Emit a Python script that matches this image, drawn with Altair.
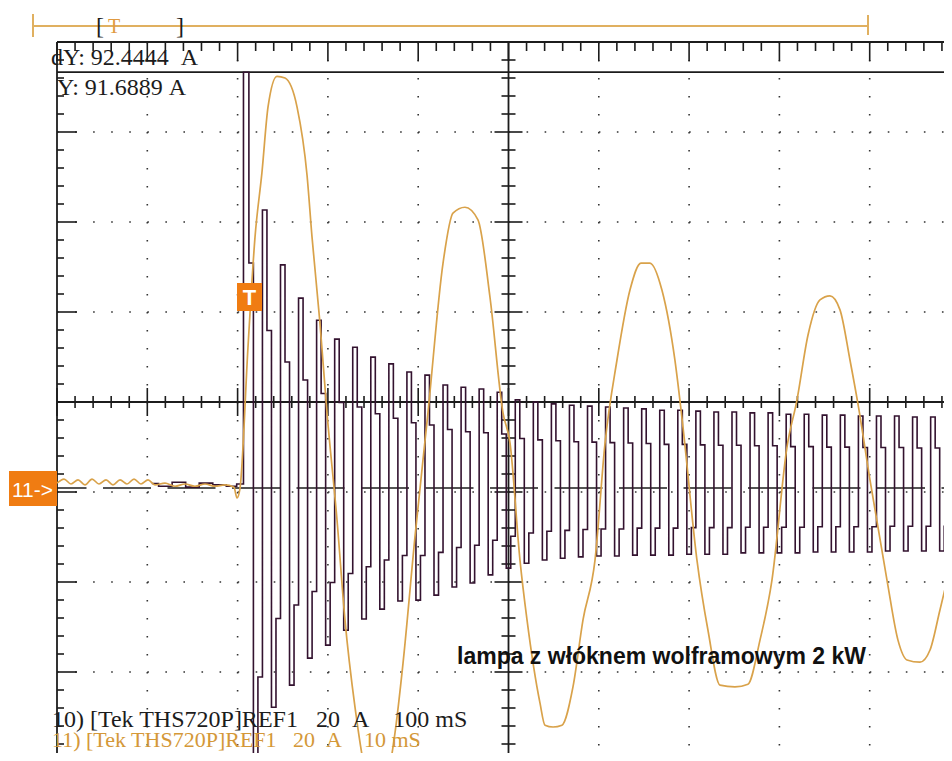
import altair as alt
import pandas as pd
import numpy as np

# ---------------- data ----------------
# Trace 10 (dark): 100 ms/div, 20 A/div, 50 Hz lamp inrush current,
# displayed as 4 held samples per mains cycle: peak, falling mid, trough, rising mid
CH10_MS_PER_DIV = 100.0
CH10_T_FIRST_PEAK = 210.0     # ms from screen left
CH10_PERIOD = 20.0            # ms (50 Hz mains)
ch10_pre_t = [105, 120, 135, 150, 165, 180, 195, 203]
ch10_pre_a = [1.0, 0.4, 1.3, 0.2, 1.1, 0.7, 0.4, 0.9]
ch10_peaks = [92.4, 61.8, 49.6, 42.2, 37.3, 33.1, 31.3, 29.1, 27.6, 25.8,
              25.1, 22.9, 22.4, 22.0, 21.3, 19.6, 19.1, 18.7, 18.4, 18.2,
              18.0, 17.8, 17.6, 17.3, 17.3, 17.1, 16.9, 16.9, 16.7, 16.7,
              16.4, 16.4, 16.2, 16.2, 16.0, 16.0, 16.0, 15.8, 15.8, 15.8]
ch10_mid_fall = [50.0, 35.0, 28.0, 24.0, 21.0, 19.0, 18.0, 16.5, 15.5, 14.5,
                 14.0, 13.0, 12.5, 12.3, 12.0, 11.0, 10.7, 10.5, 10.3, 10.2,
                 10.1, 10.0, 9.9, 9.7, 9.7, 9.6, 9.5, 9.5, 9.4, 9.4,
                 9.2, 9.2, 9.1, 9.1, 9.0, 9.0, 9.0, 8.9, 8.9, 8.9]
ch10_troughs = [-69.3, -48.7, -43.8, -37.8, -34.9, -31.6, -29.1, -26.9, -25.1, -24.9,
                -23.8, -22.0, -21.1, -19.3, -17.8, -16.7, -16.0, -15.6, -15.3, -15.1,
                -15.1, -14.9, -14.9, -14.9, -14.7, -14.7, -14.7, -14.4, -14.4, -14.4,
                -14.4, -14.2, -14.2, -14.2, -14.2, -14.0, -14.0, -14.0, -14.0, -14.0]
ch10_mid_rise = [-42.0, -29.0, -26.0, -23.0, -21.0, -19.0, -17.5, -16.0, -15.0, -15.0,
                 -14.3, -13.2, -12.7, -11.6, -10.7, -10.0, -9.6, -9.4, -9.2, -9.1,
                 -9.1, -8.9, -8.9, -8.9, -8.8, -8.8, -8.8, -8.7, -8.7, -8.7,
                 -8.7, -8.6, -8.6, -8.6, -8.6, -8.5, -8.5, -8.5, -8.5, -8.5]

# Trace 11 (orange): 10 ms/div, 20 A/div
CH11_MS_PER_DIV = 10.0
ch11_t = [0.0, 0.78, 1.55, 2.33, 3.10, 3.88, 4.65, 5.43, 6.20, 6.98, 7.75, 8.53, 9.30, 10.08,
          10.85, 11.96, 13.07, 14.17, 15.28, 16.39, 17.50, 18.60, 19.60, 19.93, 20.27,
          21.15, 21.93, 22.70, 23.37, 24.36, 25.25, 26.58, 27.69, 28.24, 29.12, 29.90,
          31.01, 31.89, 33.00, 34.11, 35.44, 36.77, 37.43, 38.32, 39.64, 41.08, 42.75,
          43.85, 45.18, 46.62, 47.95, 49.39, 50.17, 51.27, 52.05, 53.49, 54.04, 54.93,
          55.92, 57.14, 58.25, 59.58, 60.69, 62.01, 63.45, 64.67, 65.66, 66.99, 68.43,
          69.32, 70.87, 72.09, 73.42, 75.08, 76.52, 77.85, 79.18, 80.84, 81.95, 83.17,
          84.49, 85.60, 86.71, 87.82, 88.70, 90.03, 91.91, 93.13, 94.13, 95.57, 96.68,
          97.78, 99.11]
ch11_a = [1.1, 2.0, 0.9, 1.8, 0.7, 2.0, 0.9, 1.8, 0.7, 1.8, 0.9, 2.0, 0.9, 1.8,
          0.7, 1.1, 0.4, 0.9, 0.4, 0.9, 0.4, 0.7, 0.2, -2.2, 0.0,
          31.3, 55.8, 70.2, 84.7, 91.5, 91.1, 84.7, 69.5, 55.8, 36.7, 16.7,
          -7.1, -29.3, -48.7, -62.7, -68.2, -62.7, -54.4, -38.9, -10.9, 16.7, 50.0,
          61.1, 62.4, 59.6, 42.4, 16.7, 10.0, -16.0, -29.3, -47.8, -52.7, -53.1,
          -52.7, -44.2, -29.3, -16.0, 10.0, 28.4, 44.0, 50.0, 50.0, 44.0, 28.4,
          13.6, -16.0, -31.6, -43.8, -44.2, -43.6, -33.8, -20.4, 9.1, 19.6, 34.0,
          41.8, 42.7, 39.6, 28.4, 18.7, 1.8, -20.4, -33.8, -38.2, -38.7, -36.0,
          -27.1, -16.0]

A_PER_DIV = 20.0
CURSOR_DY = "dY:\u00a092.4444\u00a0\u00a0A"
CURSOR_Y = "Y:\u00a091.6889\u00a0A"
CURSOR_LEVEL_A = 92.4444
LINE10 = "10) [Tek THS720P]REF1\u00a0\u00a0\u00a020\u00a0\u00a0A\u00a0\u00a0\u00a0\u00a0100\u00a0mS"
LINE11 = "11) [Tek THS720P]REF1\u00a0\u00a0\u00a020\u00a0\u00a0A\u00a0\u00a0\u00a0\u00a010\u00a0mS"
NOTE = "lampa z włóknem wolframowym 2 kW"

# ---------------- layout ----------------
XPX, YPX = 90.3, 90.0          # pixels per division
W, H = 887, 711
XMAX = W / XPX
YTOP = 4.0
YMIN = YTOP - H / YPX
ZERO = -0.956                  # ground level of both traces (divisions)
XCEN = 5.0

xs = alt.Scale(domain=[0, XMAX], nice=False, zero=False)
ys = alt.Scale(domain=[YMIN, YTOP], nice=False, zero=False)


def X(f):
    return alt.X(f, type="quantitative", scale=xs, axis=None)


def Y(f):
    return alt.Y(f, type="quantitative", scale=ys, axis=None)


def px_x(p):
    return (p - 57) / XPX


def px_y(p):
    return (402 - p) / YPX


BLACK = "#1c1c1c"
DARK = "#33122f"
ORANGE = "#d9a24a"
MARK = "#f07c12"

# trace 10 table
t10, a10 = list(ch10_pre_t), list(ch10_pre_a)
q = CH10_PERIOD / 4
for k in range(len(ch10_peaks)):
    tp = CH10_T_FIRST_PEAK + k * CH10_PERIOD
    t10 += [tp, tp + q, tp + 2 * q, tp + 3 * q]
    a10 += [ch10_peaks[k], ch10_mid_fall[k], ch10_troughs[k], ch10_mid_rise[k]]
d10 = pd.DataFrame({"t": t10, "a": a10})
d10["i"] = range(len(d10))
d10["x"] = d10.t / CH10_MS_PER_DIV
d10["y"] = d10.a / A_PER_DIV + ZERO

d11 = pd.DataFrame({"t": ch11_t, "a": ch11_a})
d11["i"] = range(len(d11))
d11["x"] = d11.t / CH11_MS_PER_DIV
d11["y"] = d11.a / A_PER_DIV + ZERO

# graticule ticks
rows = []
for v in np.arange(0, XMAX, 0.2):
    major = int(round(v / 0.2)) % 5 == 0
    rows.append(dict(x=v, x2=v, y=YTOP, y2=YTOP - (19 if major else 9) / YPX))
    h = (14 if major else 6) / YPX
    rows.append(dict(x=v, x2=v, y=h, y2=-h))
for v in np.arange(YTOP, YMIN, -0.2):
    major = int(round(v / 0.2)) % 5 == 0
    rows.append(dict(x=0, x2=(20 if major else 7) / XPX, y=v, y2=v))
    w = (14 if major else 7) / XPX
    rows.append(dict(x=XCEN - w, x2=XCEN + w, y=v, y2=v))
ticks = pd.DataFrame(rows)

cursor_y = CURSOR_LEVEL_A / A_PER_DIV + ZERO
lines = pd.DataFrame([
    dict(x=0, x2=0, y=YTOP, y2=YMIN),
    dict(x=0, x2=XMAX, y=YTOP, y2=YTOP),
    dict(x=0, x2=XMAX, y=cursor_y, y2=cursor_y),
    dict(x=0, x2=XMAX, y=0, y2=0),
    dict(x=XCEN, x2=XCEN, y=YTOP, y2=YMIN),
])
vdots = pd.DataFrame([dict(x=v, x2=v, y=YTOP, y2=YMIN) for v in [1, 2, 3, 4, 6, 7, 8, 9]])
hdots = pd.DataFrame([dict(x=0, x2=XMAX, y=v, y2=v) for v in [3, 2, 1, -1, -2, -3]])
dashed = pd.DataFrame([dict(x=0, x2=XMAX, y=ZERO, y2=ZERO)])


def rule_layer(df, **kw):
    return alt.Chart(df).mark_rule(**kw).encode(x=X("x"), x2=alt.X2("x2"), y=Y("y"), y2=alt.Y2("y2"))


layers = []
layers.append(rule_layer(vdots, color="#333333", strokeWidth=1.6, strokeDash=[1.6, 16.4], strokeCap="butt"))
layers.append(rule_layer(hdots, color="#333333", strokeWidth=1.6, strokeDash=[1.6, 16.46], strokeCap="butt"))
layers.append(rule_layer(lines, color=BLACK, strokeWidth=1.8))
layers.append(rule_layer(ticks, color=BLACK, strokeWidth=1.6))
layers.append(rule_layer(dashed, color=BLACK, strokeWidth=1.6, strokeDash=[48, 16.5], strokeDashOffset=18.5))

layers.append(alt.Chart(d10).mark_line(color=DARK, strokeWidth=1.6, clip=True, interpolate="step").encode(
    x=X("x"), y=Y("y"), order="i:Q"))
layers.append(alt.Chart(d11).mark_line(color=ORANGE, strokeWidth=1.7, clip=True, interpolate="monotone").encode(
    x=X("x"), y=Y("y"), order="i:Q"))

# top record bar
bar = pd.DataFrame([
    dict(x=px_x(33), x2=px_x(868), y=px_y(26), y2=px_y(26)),
    dict(x=px_x(33), x2=px_x(33), y=px_y(14), y2=px_y(37)),
    dict(x=px_x(868), x2=px_x(868), y=px_y(15), y2=px_y(35)),
])
layers.append(rule_layer(bar, color="#e0b060", strokeWidth=2))


def text_layer(x, y, txt, **kw):
    df = pd.DataFrame([dict(x=x, y=y, t=txt)])
    return alt.Chart(df).mark_text(**kw).encode(x=X("x"), y=Y("y"), text="t:N")


serif = "Liberation Serif"
layers.append(text_layer(px_x(96), px_y(34), "[", font=serif, fontSize=24, color=BLACK, align="left", baseline="alphabetic"))
layers.append(text_layer(px_x(176), px_y(34), "]", font=serif, fontSize=24, color=BLACK, align="left", baseline="alphabetic"))
layers.append(text_layer(px_x(108), px_y(33), "T", font=serif, fontSize=20, color="#e09a40", align="left", baseline="alphabetic"))

# readouts
layers.append(text_layer(px_x(51), px_y(65), CURSOR_DY, font=serif, fontSize=24, color=BLACK, align="left", baseline="alphabetic"))
layers.append(text_layer(px_x(57), px_y(95), CURSOR_Y, font=serif, fontSize=24, color=BLACK, align="left", baseline="alphabetic"))
layers.append(text_layer(px_x(52), px_y(727), LINE10, font=serif, fontSize=24, color=BLACK, align="left", baseline="alphabetic"))
layers.append(text_layer(px_x(52), px_y(747), LINE11, font=serif, fontSize=22, color="#d49838", align="left", baseline="alphabetic"))
layers.append(text_layer(px_x(457), px_y(664), NOTE, font="Liberation Sans", fontSize=23, fontWeight="bold", color="#111111", align="left", baseline="alphabetic"))

# markers
boxes = pd.DataFrame([
    dict(x=px_x(237), x2=px_x(262), y=px_y(283), y2=px_y(311)),
    dict(x=px_x(9), x2=px_x(57), y=px_y(471), y2=px_y(506)),
])
layers.append(alt.Chart(boxes).mark_rect(color=MARK).encode(x=X("x"), x2=alt.X2("x2"), y=Y("y"), y2=alt.Y2("y2")))
layers.append(text_layer(px_x(249.5), px_y(305), "T", font="Liberation Sans", fontSize=22, fontWeight="bold", color="white", align="center", baseline="alphabetic"))
layers.append(text_layer(px_x(12), px_y(497), "11->", font="Liberation Sans", fontSize=21, color="white", align="left", baseline="alphabetic"))

chart = alt.layer(*layers).properties(
    width=W, height=H,
    autosize=alt.AutoSizeParams(type="none"),
    padding={"left": 49, "top": 34, "right": 0, "bottom": 0},
    background="white",
).configure_view(stroke=None)

chart.save("out.html", embed_options={"renderer": "svg", "actions": False})
